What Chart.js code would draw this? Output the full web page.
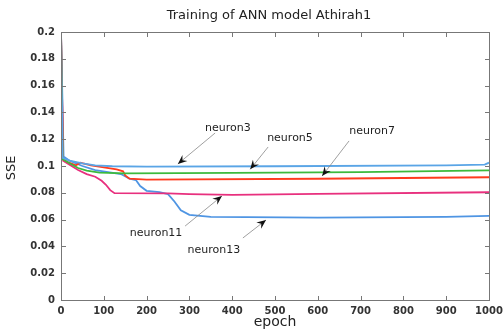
<!DOCTYPE html>
<html>
<head>
<meta charset="utf-8">
<script src="https://cdn.jsdelivr.net/npm/chart.js@4/dist/chart.umd.min.js"></script>
<style>
  html, body { margin: 0; padding: 0; background: #fff; }
  #wrap { width: 504px; height: 331px; }
</style>
</head>
<body>
<div id="wrap"><canvas id="sseChart" width="504" height="331"></canvas></div>
<script>
// training error curves, epoch vs SSE
const epochTicks = [0, 100, 200, 300, 400, 500, 600, 700, 800, 900, 1000];
const sseTicks = [0, 0.02, 0.04, 0.06, 0.08, 0.1, 0.12, 0.14, 0.16, 0.18, 0.2];

const n3Epoch = [0, 4, 20, 50, 80, 120, 200, 500, 900, 990, 1000];
const n3Sse = [0.2, 0.106, 0.104, 0.102, 0.1005, 0.0998, 0.0995, 0.0998, 0.1005, 0.101, 0.1025];

const n5Epoch = [0, 4, 20, 40, 60, 90, 150, 400, 700, 1000];
const n5Sse = [0.2, 0.105, 0.102, 0.0985, 0.0965, 0.095, 0.0945, 0.0948, 0.0955, 0.0968];

const n7Epoch = [0, 5, 15, 35, 45, 70, 100, 130, 145, 150, 160, 200, 600, 1000];
const n7Sse = [0.2, 0.105, 0.103, 0.1005, 0.1025, 0.1005, 0.099, 0.0975, 0.096, 0.093, 0.0905, 0.0898, 0.0905, 0.0916];

const n11Epoch = [0, 5, 20, 40, 60, 80, 95, 105, 115, 125, 250, 300, 400, 600, 1000];
const n11Sse = [0.2, 0.104, 0.101, 0.097, 0.094, 0.092, 0.089, 0.086, 0.082, 0.0797, 0.0796, 0.079, 0.0785, 0.0792, 0.0804];

const n13Epoch = [0, 6, 20, 50, 80, 110, 140, 160, 175, 185, 200, 230, 250, 265, 280, 300, 350, 600, 900, 1000];
const n13Sse = [0.2, 0.107, 0.104, 0.1, 0.097, 0.0955, 0.094, 0.0905, 0.0895, 0.085, 0.0815, 0.0805, 0.079, 0.0735, 0.067, 0.0635, 0.062, 0.0615, 0.062, 0.0628];

// label text, text anchor, arrow tail, arrow head (epoch, sse)
const labelNames = ['neuron3', 'neuron5', 'neuron7', 'neuron11', 'neuron13'];
const labelAt = [[390, 0.128], [535, 0.121], [727, 0.126], [222, 0.05], [357, 0.0373]];
const arrowFrom = [[360, 0.1246], [484, 0.1142], [673, 0.1187], [290, 0.0552], [425, 0.0463]];
const arrowTo = [[273, 0.1015], [442, 0.0975], [610, 0.0925], [376, 0.0776], [479, 0.0597]];

const FONT = '"DejaVu Sans", Verdana, sans-serif';

function pts(xs, ys) {
    return xs.map((x, i) => ({ x: x, y: ys[i] }));
}

// box round the plot, inward ticks, titles and arrow labels
const frame = {
    id: 'plotFrame',
    afterDraw(chart) {
        const ctx = chart.ctx;
        const xs = chart.scales.x, ys = chart.scales.y;
        const x0p = Math.round(xs.getPixelForValue(0)), x1p = Math.round(xs.getPixelForValue(1000));
        const y0p = Math.round(ys.getPixelForValue(0)), y1p = Math.round(ys.getPixelForValue(0.2));
        ctx.save();
        ctx.fillStyle = '#777';
        ctx.fillRect(x0p, y1p, x1p - x0p + 1, 1);
        ctx.fillRect(x0p, y0p, x1p - x0p + 1, 1);
        ctx.fillRect(x0p, y1p, 1, y0p - y1p + 1);
        ctx.fillRect(x1p, y1p, 1, y0p - y1p + 1);
        epochTicks.forEach(v => {
            const px = Math.round(xs.getPixelForValue(v));
            ctx.fillRect(px, y0p - 4, 1, 4);
            ctx.fillRect(px, y1p + 1, 1, 4);
        });
        sseTicks.forEach(v => {
            const py = Math.round(ys.getPixelForValue(v));
            ctx.fillRect(x0p + 1, py, 4, 1);
            ctx.fillRect(x1p - 4, py, 4, 1);
        });

        ctx.fillStyle = '#222';
        ctx.textAlign = 'center';
        ctx.textBaseline = 'middle';
        ctx.font = '13px ' + FONT;
        ctx.fillText('Training of ANN model Athirah1', (x0p + x1p) / 2 - 6, 16);
        ctx.font = '14px ' + FONT;
        ctx.fillText('epoch', (x0p + x1p) / 2, 322);
        ctx.save();
        ctx.translate(12, (y0p + y1p) / 2 + 2);
        ctx.rotate(-Math.PI / 2);
        ctx.font = '13px ' + FONT;
        ctx.fillText('SSE', 0, 0);
        ctx.restore();

        ctx.font = '11px ' + FONT;
        labelNames.forEach((name, i) => {
            const tx = xs.getPixelForValue(labelAt[i][0]), ty = ys.getPixelForValue(labelAt[i][1]);
            const ax = xs.getPixelForValue(arrowFrom[i][0]), ay = ys.getPixelForValue(arrowFrom[i][1]);
            const bx = xs.getPixelForValue(arrowTo[i][0]), by = ys.getPixelForValue(arrowTo[i][1]);
            ctx.fillStyle = '#222';
            ctx.fillText(name, tx, ty);
            ctx.strokeStyle = '#888';
            ctx.lineWidth = 0.8;
            ctx.beginPath();
            ctx.moveTo(ax, ay); ctx.lineTo(bx, by);
            ctx.stroke();
            const ang = Math.atan2(by - ay, bx - ax);
            const len = 10, wid = 0.4;
            ctx.fillStyle = '#111';
            ctx.beginPath();
            ctx.moveTo(bx, by);
            ctx.lineTo(bx - len * Math.cos(ang - wid), by - len * Math.sin(ang - wid));
            ctx.lineTo(bx - len * 0.6 * Math.cos(ang), by - len * 0.6 * Math.sin(ang));
            ctx.lineTo(bx - len * Math.cos(ang + wid), by - len * Math.sin(ang + wid));
            ctx.closePath();
            ctx.fill();
        });
        ctx.restore();
    }
};

const lineOpts = { borderWidth: 1.8, pointRadius: 0, tension: 0, fill: false };

new Chart(document.getElementById('sseChart'), {
    type: 'line',
    data: {
        datasets: [
            Object.assign({ label: 'neuron3', data: pts(n3Epoch, n3Sse), borderColor: '#5aa5e6' }, lineOpts),
            Object.assign({ label: 'neuron5', data: pts(n5Epoch, n5Sse), borderColor: '#3dba3d' }, lineOpts),
            Object.assign({ label: 'neuron7', data: pts(n7Epoch, n7Sse), borderColor: '#ff3b1e' }, lineOpts),
            Object.assign({ label: 'neuron11', data: pts(n11Epoch, n11Sse), borderColor: '#e8307e' }, lineOpts),
            Object.assign({ label: 'neuron13', data: pts(n13Epoch, n13Sse), borderColor: '#4f95e3' }, lineOpts)
        ]
    },
    options: {
        responsive: false,
        animation: false,
        layout: { padding: { top: 32, right: 15, left: 4, bottom: 2 } },
        plugins: {
            legend: { display: false },
            tooltip: { enabled: false },
            title: { display: false }
        },
        scales: {
            x: {
                type: 'linear',
                min: 0,
                max: 1000,
                afterBuildTicks: s => { s.ticks = epochTicks.map(v => ({ value: v })); },
                afterFit: s => { s.height = 29; s.paddingLeft = 0; s.paddingRight = 0; },
                grid: { display: false, drawTicks: false },
                border: { display: false },
                ticks: {
                    padding: 5,
                    color: '#333',
                    maxRotation: 0,
                    callback: v => String(v),
                    font: { family: FONT, size: 10, weight: 'bold' }
                }
            },
            y: {
                min: 0,
                max: 0.2,
                afterBuildTicks: s => { s.ticks = sseTicks.map(v => ({ value: v })); },
                afterFit: s => { s.width = 57; s.paddingTop = 0; s.paddingBottom = 0; },
                grid: { display: false, drawTicks: false },
                border: { display: false },
                ticks: {
                    padding: 6,
                    color: '#333',
                    callback: v => String(+v.toFixed(2)),
                    font: { family: FONT, size: 10, weight: 'bold' }
                }
            }
        }
    },
    plugins: [frame]
});
</script>
</body>
</html>
